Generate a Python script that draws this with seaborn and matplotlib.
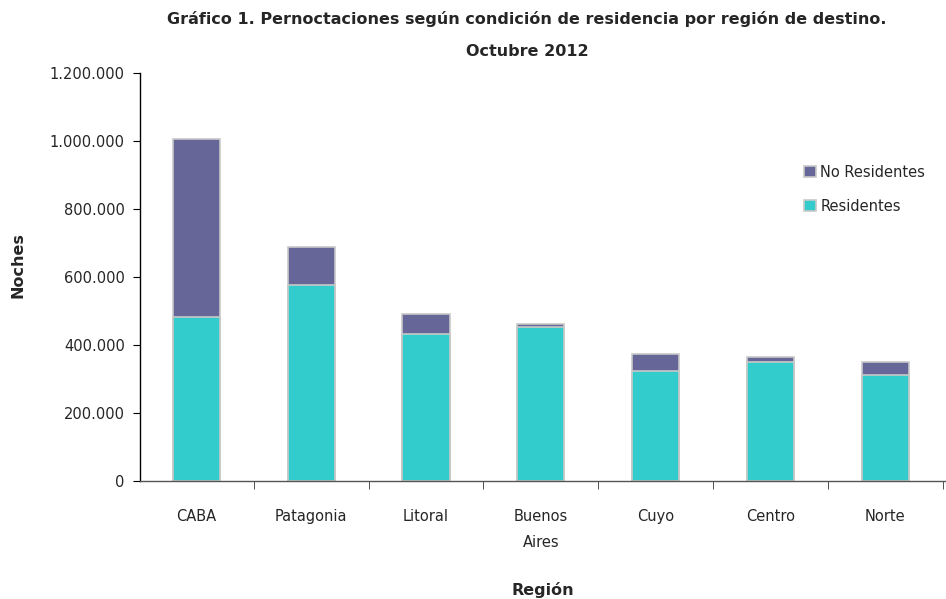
import pandas as pd
import seaborn as sns
import matplotlib.pyplot as plt
from matplotlib.ticker import FuncFormatter, FixedLocator

# Data
regions = ["CABA", "Patagonia", "Litoral", "Buenos\nAires", "Cuyo", "Centro", "Norte"]
residentes = [483000, 577000, 432000, 454000, 323000, 350000, 312000]
no_residentes = [522000, 110000, 59000, 7000, 51000, 14000, 37000]

df = pd.DataFrame({"Región": regions, "Residentes": residentes, "No Residentes": no_residentes})
df["Total"] = df["Residentes"] + df["No Residentes"]

sns.set_style("white")
plt.rcParams["font.family"] = ["DejaVu Sans"]

fig = plt.figure(figsize=(9.46, 5.99), dpi=100)
ax = fig.add_axes([0.148, 0.197, 0.851, 0.681])

purple = "#666699"
teal = "#33CCCC"

sns.barplot(data=df, x="Región", y="Total", color=purple, width=0.41, saturation=1,
            edgecolor="#c8c8c8", linewidth=1.2, ax=ax, label="No Residentes")
sns.barplot(data=df, x="Región", y="Residentes", color=teal, width=0.41, saturation=1,
            edgecolor="#c8c8c8", linewidth=1.2, ax=ax, label="Residentes")

ax.set_ylim(0, 1200000)
ax.set_xlim(-0.49, 6.52)
ax.set_yticks(range(0, 1200001, 200000))
ax.yaxis.set_major_formatter(FuncFormatter(lambda v, p: f"{int(v):,}".replace(",", ".")))

# x ticks sit between categories, labels at centres
ax.set_xticks(range(len(regions)))
ax.set_xticklabels(regions, fontsize=10.5, linespacing=1.9)
ax.tick_params(axis="x", length=0, pad=20)
ax.xaxis.set_minor_locator(FixedLocator([i + 0.5 for i in range(len(regions))]))
ax.tick_params(axis="x", which="minor", length=6, color="#333333", direction="out", bottom=True)
ax.tick_params(axis="y", length=5, color="black", direction="out", labelsize=10.5, pad=6, left=True)

for s in ["top", "right"]:
    ax.spines[s].set_visible(False)
ax.spines["left"].set_color("black")
ax.spines["left"].set_linewidth(1.0)
ax.spines["bottom"].set_color("#555555")
ax.spines["bottom"].set_linewidth(1.0)

ax.set_xlabel("Región", fontsize=11.5, fontweight="bold", labelpad=23)
ax.set_ylabel("Noches", fontsize=11.5, fontweight="bold")
ax.yaxis.set_label_coords(-0.142, 0.53)

fig.suptitle("Gráfico 1. Pernoctaciones según condición de residencia por región de destino.\nOctubre 2012",
             x=0.557, y=0.982, va="top", fontsize=11.5, fontweight="bold", linespacing=2.42)

handles, labels = ax.get_legend_handles_labels()
ax.legend(handles, labels, loc="upper left", bbox_to_anchor=(0.818, 0.79), frameon=False,
          fontsize=10.5, handlelength=0.8, handleheight=0.8, handletextpad=0.3,
          labelspacing=1.3, borderaxespad=0)

fig.savefig("out.png", dpi=100)
